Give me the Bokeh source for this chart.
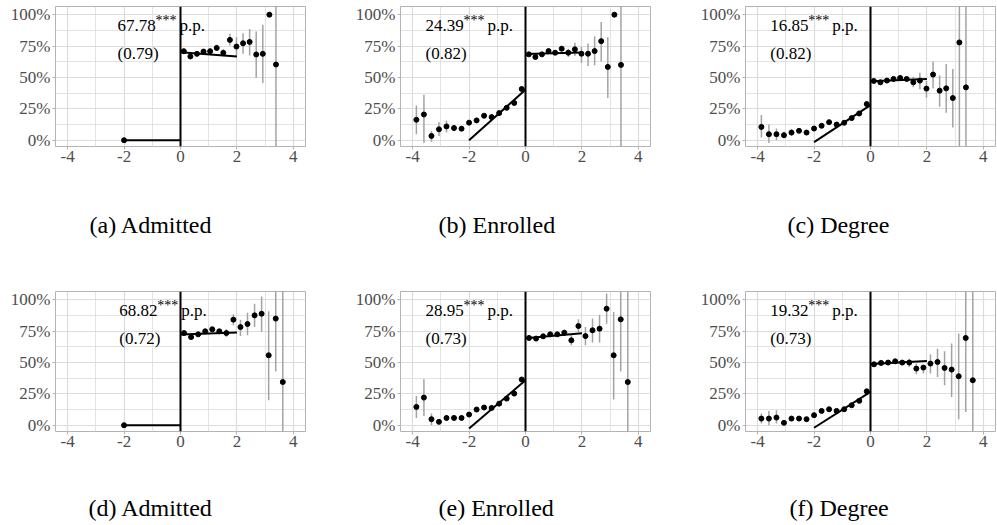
from bokeh.plotting import figure
from bokeh.layouts import column, row
from bokeh.models import FixedTicker, Span, Title, CustomJSTickFormatter
from bokeh.core.properties import value
from bokeh.embed import file_html
from bokeh.resources import INLINE

# ---------------- data ----------------
captions = ["(a) Admitted", "(b) Enrolled", "(c) Degree",
            "(d) Admitted", "(e) Enrolled", "(f) Degree"]
estimates = ["67.78", "24.39", "16.85", "68.82", "28.95", "19.32"]
std_errors = ["(0.79)", "(0.82)", "(0.82)", "(0.72)", "(0.73)", "(0.73)"]
label_x = [-2.23, -3.54, -3.55, -2.17, -3.54, -3.55]

# bin centres
left_x_wide = [-3.867, -3.6, -3.333, -3.067, -2.8, -2.533, -2.267, -2.0,
               -1.733, -1.467, -1.2, -0.933, -0.667, -0.4, -0.133]
right_x_top = [0.117, 0.35, 0.583, 0.817, 1.05, 1.283, 1.517, 1.75, 1.983,
               2.217, 2.45, 2.683, 2.917, 3.15, 3.383]
right_x_bot = [0.125, 0.375, 0.625, 0.875, 1.125, 1.375, 1.625, 1.875, 2.125,
               2.375, 2.625, 2.875, 3.125, 3.375, 3.625]
admitted_left_x = [-2.0]

# (a) Admitted
a_left_y = [0.0]
a_left_lo = [0.0]
a_left_hi = [0.0]
a_right_y = [70.9, 66.7, 68.8, 70.6, 70.9, 73.5, 69.6, 79.9, 74.6, 77.2, 78.3, 68.3, 68.8, 100.0, 60.3]
a_right_lo = [69.5, 65.2, 67.3, 68.8, 69.0, 71.0, 66.8, 75.4, 67.5, 68.8, 67.5, 49.8, 45.5, 100.0, -60.0]
a_right_hi = [72.3, 68.2, 70.3, 72.4, 72.8, 76.0, 72.4, 84.7, 82.0, 85.2, 88.6, 86.5, 92.0, 100.0, 180.0]
a_fit_left = [0.0, 0.0]
a_fit_right = [70.1, 66.6]

# (b) Enrolled
b_left_y = [16.3, 20.5, 3.4, 8.7, 11.0, 9.7, 9.2, 14.0, 15.8, 19.5, 18.4, 21.6, 25.8, 29.7, 40.8]
b_left_lo = [4.7, -2.1, -1.3, 3.4, 6.1, 7.5, 7.2, 12.0, 14.0, 17.5, 16.5, 19.8, 24.0, 28.0, 39.3]
b_left_hi = [27.6, 36.3, 7.4, 14.5, 15.8, 11.9, 11.2, 16.0, 17.6, 21.5, 20.3, 23.4, 27.6, 31.4, 42.3]
b_right_y = [68.4, 66.3, 68.4, 71.0, 69.7, 72.9, 69.7, 72.4, 68.9, 68.9, 71.0, 78.9, 58.4, 100.0, 60.0]
b_right_lo = [67.0, 65.0, 67.0, 69.5, 68.2, 71.0, 66.3, 67.1, 61.8, 59.2, 59.7, 62.6, 33.7, 100.0, -60.0]
b_right_hi = [69.8, 67.6, 69.8, 72.5, 71.2, 74.8, 72.9, 77.6, 74.4, 77.1, 82.9, 94.2, 82.1, 100.0, 180.0]
b_fit_left = [0.0, 40.2]
b_fit_right = [68.6, 69.8]

# (c) Degree
c_left_y = [10.6, 4.8, 4.8, 4.0, 6.1, 7.5, 6.1, 9.3, 11.5, 14.4, 12.5, 13.9, 17.6, 21.3, 28.8]
c_left_lo = [2.2, -2.2, 0.0, 1.3, 3.5, 5.8, 4.5, 7.8, 10.0, 13.0, 11.0, 12.4, 16.0, 19.8, 27.3]
c_left_hi = [20.0, 12.5, 9.3, 6.7, 8.7, 9.2, 7.7, 10.8, 13.0, 15.8, 14.0, 15.4, 19.2, 22.8, 30.3]
c_right_y = [47.2, 46.1, 47.5, 48.8, 49.6, 48.8, 46.1, 47.5, 41.1, 52.3, 39.5, 41.3, 33.6, 77.9, 42.1]
c_right_lo = [46.0, 44.8, 46.2, 47.5, 48.2, 47.3, 42.1, 40.5, 34.1, 41.3, 26.7, 21.9, 10.2, -60.0, -60.0]
c_right_hi = [48.4, 47.4, 48.8, 50.1, 51.0, 50.3, 50.6, 53.8, 47.2, 62.6, 51.5, 60.8, 56.8, 180.0, 180.0]
c_fit_left = [-1.5, 28.0]
c_fit_right = [47.0, 48.8]

# (d) Admitted
d_left_y = [0.0]
d_left_lo = [0.0]
d_left_hi = [0.0]
d_right_y = [73.4, 70.2, 72.4, 74.8, 76.4, 74.8, 73.4, 84.1, 78.2, 80.6, 87.5, 88.8, 55.7, 84.9, 34.4]
d_right_lo = [72.0, 68.8, 71.0, 73.3, 74.9, 73.3, 70.2, 79.6, 71.0, 71.6, 78.2, 74.2, 19.9, 42.7, -60.0]
d_right_hi = [74.8, 71.6, 73.8, 76.3, 77.9, 76.3, 76.4, 88.3, 84.1, 89.6, 96.8, 102.6, 90.7, 140.0, 180.0]
d_fit_left = [0.0, 0.0]
d_fit_right = [72.2, 73.8]

# (e) Enrolled
e_left_y = [14.6, 22.0, 4.8, 2.7, 5.8, 5.8, 5.8, 8.5, 12.5, 14.1, 13.8, 17.2, 21.2, 25.2, 36.4]
e_left_lo = [5.8, 7.4, 0.0, 1.2, 3.5, 4.3, 4.3, 7.0, 11.0, 12.6, 12.3, 15.7, 19.7, 23.7, 34.9]
e_left_hi = [23.3, 36.6, 9.3, 4.2, 8.0, 7.3, 7.3, 10.0, 14.0, 15.6, 15.3, 18.7, 22.7, 26.7, 37.9]
e_right_y = [69.5, 69.0, 70.8, 72.4, 72.4, 73.7, 67.6, 79.0, 71.0, 75.6, 76.9, 92.8, 55.7, 84.3, 34.4]
e_right_lo = [68.0, 67.5, 69.3, 70.9, 70.9, 71.5, 63.6, 74.2, 63.6, 65.8, 65.8, 80.9, 20.4, 42.7, -60.0]
e_right_hi = [71.0, 70.5, 72.3, 73.9, 73.9, 76.0, 71.6, 84.3, 78.2, 84.9, 88.0, 105.0, 90.1, 140.0, 180.0]
e_fit_left = [-2.7, 35.8]
e_fit_right = [69.3, 73.2]

# (f) Degree
f_left_y = [5.3, 5.3, 6.1, 1.9, 5.3, 5.3, 4.8, 8.0, 11.4, 12.7, 11.4, 12.7, 15.9, 19.4, 27.0]
f_left_lo = [1.3, 0.0, 1.3, 0.8, 4.0, 4.0, 3.5, 6.7, 10.1, 11.4, 10.1, 11.4, 14.6, 18.1, 25.7]
f_left_hi = [9.3, 11.4, 12.0, 3.0, 6.6, 6.6, 6.1, 9.3, 12.7, 14.0, 12.7, 14.0, 17.2, 20.7, 28.3]
f_right_y = [48.5, 49.6, 49.9, 50.9, 49.9, 49.9, 45.1, 45.9, 49.1, 50.4, 45.6, 44.3, 39.0, 69.5, 35.8]
f_right_lo = [47.5, 48.6, 48.9, 49.9, 48.9, 46.4, 40.6, 41.1, 41.1, 38.4, 31.8, 22.5, 4.8, 10.6, -60.0]
f_right_hi = [49.5, 50.6, 50.9, 51.9, 50.9, 53.0, 49.1, 47.7, 56.5, 61.0, 58.9, 65.0, 73.0, 140.0, 180.0]
f_fit_left = [-2.0, 26.5]
f_fit_right = [48.8, 51.2]

fit_left_x = [-2.0, 0.0]
fit_right_x = [0.0, 2.0]

x_ticks = [-4, -2, 0, 2, 4]
x_minor = [-3, -1, 1, 3]
y_ticks = [0, 25, 50, 75, 100]
y_minor = [12.5, 37.5, 62.5, 87.5]

panels = [
    (admitted_left_x, a_left_y, a_left_lo, a_left_hi, right_x_top, a_right_y, a_right_lo, a_right_hi, a_fit_left, a_fit_right),
    (left_x_wide, b_left_y, b_left_lo, b_left_hi, right_x_top, b_right_y, b_right_lo, b_right_hi, b_fit_left, b_fit_right),
    (left_x_wide, c_left_y, c_left_lo, c_left_hi, right_x_top, c_right_y, c_right_lo, c_right_hi, c_fit_left, c_fit_right),
    (admitted_left_x, d_left_y, d_left_lo, d_left_hi, right_x_bot, d_right_y, d_right_lo, d_right_hi, d_fit_left, d_fit_right),
    (left_x_wide, e_left_y, e_left_lo, e_left_hi, right_x_bot, e_right_y, e_right_lo, e_right_hi, e_fit_left, e_fit_right),
    (left_x_wide, f_left_y, f_left_lo, f_left_hi, right_x_bot, f_right_y, f_right_lo, f_right_hi, f_fit_left, f_fit_right),
]
caption_offsets = [34, 38, 42, 33, 38, 44]

SERIF = value("Liberation Serif")
AXFONT = "Liberation Serif"
GRID = "#dcdcdc"
BORDER = "#b3b3b3"


def make_panel(i, width, height, top_b, bottom_b, right_b, gap):
    lx, ly, llo, lhi, rx, ry, rlo, rhi, fl, fr = panels[i]
    p = figure(width=width, height=height, x_range=(-4.43, 4.43), y_range=(-5, 106.5),
               output_backend="svg", toolbar_location=None,
               min_border_left=55, min_border_right=right_b,
               min_border_top=top_b, min_border_bottom=bottom_b)
    p.background_fill_color = "white"
    p.border_fill_color = "white"
    p.outline_line_color = BORDER
    p.outline_line_width = 1

    p.xaxis.ticker = FixedTicker(ticks=x_ticks, minor_ticks=x_minor)
    p.yaxis.ticker = FixedTicker(ticks=y_ticks, minor_ticks=y_minor)
    p.xaxis.formatter = CustomJSTickFormatter(code="return tick.toFixed(0);")
    p.yaxis.formatter = CustomJSTickFormatter(code="return tick.toFixed(0) + '%';")
    for ax in (p.xaxis, p.yaxis):
        ax.axis_line_color = None
        ax.major_tick_line_color = BORDER
        ax.major_tick_in = 0
        ax.major_tick_out = 3
        ax.minor_tick_in = 0
        ax.minor_tick_out = 0
        ax.major_label_text_font = AXFONT
        ax.major_label_text_font_size = "17px"
        ax.major_label_text_color = "#4d4d4d"
    p.xaxis.major_label_standoff = 1
    p.yaxis.major_label_standoff = 2
    p.xgrid.grid_line_color = GRID
    p.ygrid.grid_line_color = GRID
    p.xgrid.grid_line_width = 1.2
    p.ygrid.grid_line_width = 1.2
    p.xgrid.minor_grid_line_color = GRID
    p.ygrid.minor_grid_line_color = GRID
    p.xgrid.minor_grid_line_width = 0.8
    p.ygrid.minor_grid_line_width = 0.8

    # error bars
    p.segment(x0=lx, y0=llo, x1=lx, y1=lhi, line_color="#a3a3a3", line_width=1.5)
    p.segment(x0=rx, y0=rlo, x1=rx, y1=rhi, line_color="#a3a3a3", line_width=1.5)
    # cutoff
    p.add_layout(Span(location=0, dimension="height", line_color="black", line_width=2))
    # fitted lines
    p.line(fit_left_x, fl, line_color="black", line_width=2)
    p.line(fit_right_x, fr, line_color="black", line_width=2)
    # bin means
    p.scatter(lx, ly, size=5, color="black")
    p.scatter(rx, ry, size=5, color="black")

    # estimate text
    tx = label_x[i]
    p.text(x=[tx], y=[91], text=[estimates[i]], text_font=SERIF, text_font_size="17px",
           text_align="left", text_baseline="middle", text_color="black")
    p.text(x=[tx], y=[91], text=["***"], text_font=SERIF, text_font_size="14px",
           text_align="left", text_baseline="middle", text_color="black",
           x_offset=38, y_offset=-5)
    p.text(x=[tx], y=[91], text=["p.p."], text_font=SERIF, text_font_size="17px",
           text_align="left", text_baseline="middle", text_color="black",
           x_offset=62)
    p.text(x=[tx], y=[69], text=[std_errors[i]], text_font=SERIF, text_font_size="17px",
           text_align="left", text_baseline="middle", text_color="black")

    # spacer + caption below the axis
    p.add_layout(Title(text=" ", text_font_size="1px", standoff=gap), "below")
    p.add_layout(Title(text=captions[i], align="left", offset=caption_offsets[i],
                       standoff=0, text_font="Liberation Serif", text_font_size="24px",
                       text_font_style="normal", text_color="black"), "below")
    return p


top_h, bot_h = 285, 240
figs_top = [
    make_panel(0, 345, top_h, 6, 139, 40, 42),
    make_panel(1, 345, top_h, 6, 139, 40, 42),
    make_panel(2, 307, top_h, 6, 139, 2, 42),
]
figs_bot = [
    make_panel(3, 345, bot_h, 6, 94, 40, 40),
    make_panel(4, 345, bot_h, 6, 94, 40, 40),
    make_panel(5, 307, bot_h, 6, 94, 2, 40),
]

layout = column(row(*figs_top, spacing=0), row(*figs_bot, spacing=0), spacing=0)

open("out.html", "w").write(file_html(layout, INLINE))
